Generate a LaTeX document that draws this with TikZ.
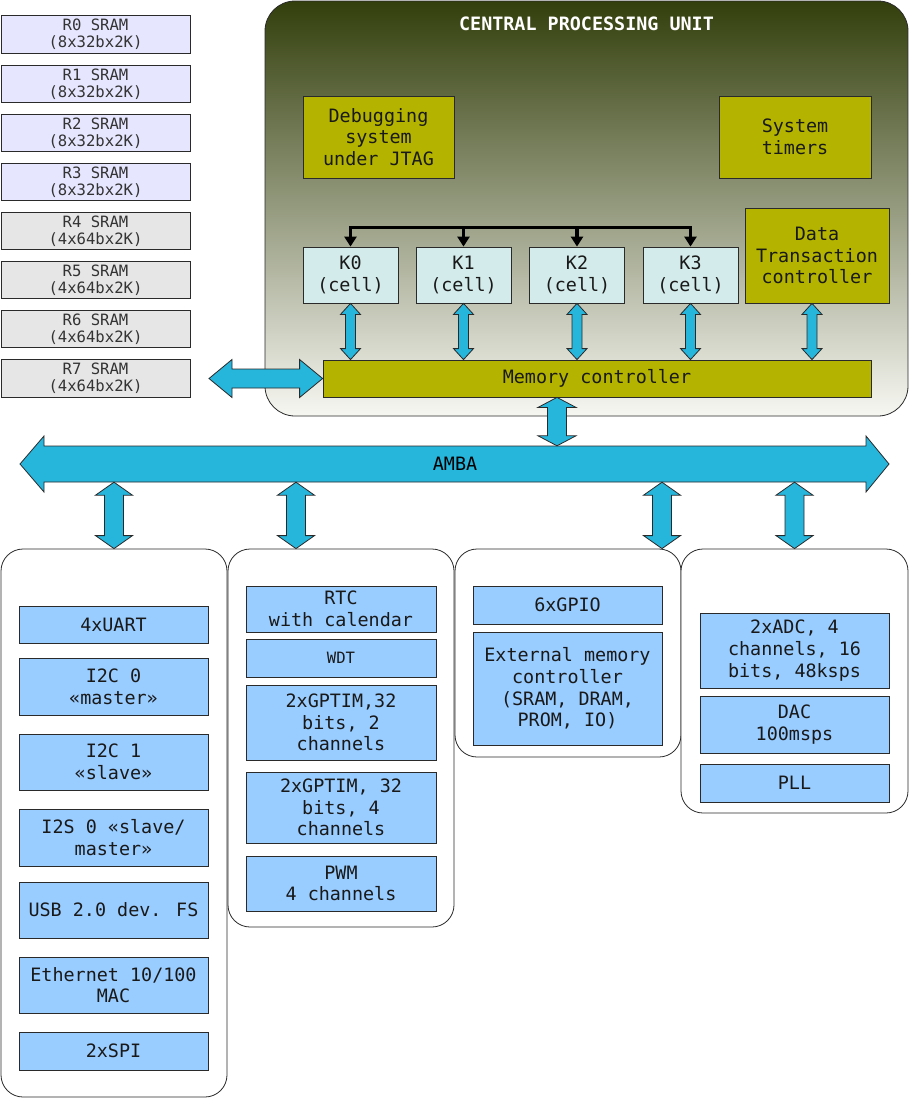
\documentclass[tikz,border=0pt]{standalone}
\usepackage{fontspec}
\newfontfamily\mono{DejaVu Sans Mono}
\usetikzlibrary{arrows.meta,calc}
\definecolor{chipolive}{HTML}{B3B300}
\definecolor{kcyan}{HTML}{D3EBEA}
\definecolor{sramlav}{HTML}{E6E6FF}
\definecolor{sramgray}{HTML}{E6E6E6}
\definecolor{perblue}{HTML}{99CCFF}
\definecolor{arrcyan}{HTML}{26B5DB}
\definecolor{edge}{HTML}{2A2A2A}
\definecolor{cputop}{HTML}{333F0C}
\definecolor{cpubot}{HTML}{F7F7F2}
\newcommand\bigtxt{\mono\fontsize{18.4}{21.7}\selectfont}
\newcommand\smalltxt{\mono\fontsize{15.6}{17}\selectfont}
% vertical double arrow: #1 top, #2 bottom, #3 half shaft, #4 half head, #5 head length
\newcommand\vdarr[5]{\draw[barrow] let \p1=(#1), \p2=(#2) in
  (\x1,\y1) -- (\x1+#4pt,\y1-#5pt) -- (\x1+#3pt,\y1-#5pt) -- (\x1+#3pt,\y2+#5pt) -- (\x1+#4pt,\y2+#5pt)
  -- (\x1,\y2) -- (\x1-#4pt,\y2+#5pt) -- (\x1-#3pt,\y2+#5pt) -- (\x1-#3pt,\y1-#5pt) -- (\x1-#4pt,\y1-#5pt) -- cycle;}
% horizontal double arrow: #1 left, #2 right
\newcommand\hdarr[5]{\draw[barrow] let \p1=(#1), \p2=(#2) in
  (\x1,\y1) -- (\x1+#5pt,\y1+#4pt) -- (\x1+#5pt,\y1+#3pt) -- (\x2-#5pt,\y1+#3pt) -- (\x2-#5pt,\y1+#4pt)
  -- (\x2,\y1) -- (\x2-#5pt,\y1-#4pt) -- (\x2-#5pt,\y1-#3pt) -- (\x1+#5pt,\y1-#3pt) -- (\x1+#5pt,\y1-#4pt) -- cycle;}
\begin{document}
\begin{tikzpicture}[x=1pt,y=-1pt,
  box/.style={draw=edge, line width=0.8pt, inner sep=0pt, align=center, font=\bigtxt, text=black!90},
  sram/.style={box, font=\smalltxt, text=black!80, minimum width=189pt, minimum height=37.5pt},
  olivebox/.style={box, fill=chipolive},
  kbox/.style={box, fill=kcyan, minimum width=95pt, minimum height=56pt},
  bluebox/.style={box, fill=perblue},
  panel/.style={draw=edge, line width=0.8pt, rounded corners=22pt, fill=white, inner sep=0pt},
  barrow/.style={fill=arrcyan, draw=edge, line width=0.8pt, line join=miter},
  busline/.style={line width=3.5pt, black, line join=miter}
]
\useasboundingbox (0,0) rectangle (909,1098);
\fill[white] (0,0) rectangle (909,1098);

% SRAM column
\node[sram, fill=sramlav]  (r0) at (95.5,34.5)  {R0 SRAM\\(8x32bx2K)};
\node[sram, fill=sramlav]  (r1) at (95.5,84)    {R1 SRAM\\(8x32bx2K)};
\node[sram, fill=sramlav]  (r2) at (95.5,133)   {R2 SRAM\\(8x32bx2K)};
\node[sram, fill=sramlav]  (r3) at (95.5,182)   {R3 SRAM\\(8x32bx2K)};
\node[sram, fill=sramgray] (r4) at (95.5,231)   {R4 SRAM\\(4x64bx2K)};
\node[sram, fill=sramgray] (r5) at (95.5,280)   {R5 SRAM\\(4x64bx2K)};
\node[sram, fill=sramgray] (r6) at (95.5,329)   {R6 SRAM\\(4x64bx2K)};
\node[sram, fill=sramgray] (r7) at (95.5,378.5) {R7 SRAM\\(4x64bx2K)};

% CPU
\node[draw=edge, line width=0.8pt, rounded corners=30pt, top color=cputop, bottom color=cpubot,
      minimum width=643pt, minimum height=415pt, inner sep=0pt] (cpu) at (586.5,208.5) {};
\node[font=\mono\bfseries\fontsize{18.4}{21.7}\selectfont, text=white, inner sep=0pt] (title) at (586.5,24) {CENTRAL PROCESSING UNIT};

\node[olivebox, minimum width=151pt, minimum height=82pt] (dbg) at (378.5,137) {Debugging\\system\\under JTAG};
\node[olivebox, minimum width=152pt, minimum height=82pt] (tim) at (795,137) {System\\timers};
\node[olivebox, minimum width=144pt, minimum height=95pt] (dtc) at (817,255.5) {Data\\Transaction\\controller};

\node[kbox] (k0) at (350.5,275) {K0\\(cell)};
\node[kbox] (k1) at (463.5,275) {K1\\(cell)};
\node[kbox] (k2) at (577,275)   {K2\\(cell)};
\node[kbox] (k3) at (690.5,275) {K3\\(cell)};

\node[olivebox, minimum width=548pt, minimum height=37pt] (mem) at (597,378.5) {Memory controller};

% black bus to cells
\coordinate (bus) at (350.5,227.5);
\draw[busline, -{Triangle[width=12pt,length=10pt]}] (k1.north |- bus) -- (k1.north);
\draw[busline, -{Triangle[width=12pt,length=10pt]}] (k2.north |- bus) -- (k2.north);
\draw[busline, {Triangle[width=12pt,length=10pt]}-{Triangle[width=12pt,length=10pt]}]
  (k0.north) -- (k0.north |- bus) -- (k3.north |- bus) -- (k3.north);

% cell <-> memory controller arrows
\vdarr{k0.south}{k0.south |- mem.north}{5}{10}{11}
\vdarr{k1.south}{k1.south |- mem.north}{5}{10}{11}
\vdarr{k2.south}{k2.south |- mem.north}{5}{10}{11}
\vdarr{k3.south}{k3.south |- mem.north}{5}{10}{11}
\coordinate (dtcb) at ([xshift=-5pt]dtc.south);
\vdarr{dtcb}{dtcb |- mem.north}{5}{10}{11}

% SRAM <-> memory controller
\coordinate (srl) at (209,378.5);
\hdarr{srl}{mem.west}{9.5}{19}{23}

% AMBA bus
\draw[barrow] (20,464) -- (44,436) -- (44,446) -- (866,446) -- (866,436) -- (889,464)
  -- (866,492) -- (866,482) -- (44,482) -- (44,492) -- cycle;
\node[font=\bigtxt, inner sep=0pt, minimum width=822pt, minimum height=36pt] (amba) at (455,464) {AMBA};

% memory controller <-> AMBA
\coordinate (mab) at ([xshift=-40pt]mem.south);
\vdarr{mab}{mab |- amba.north}{9.5}{19}{10}

% peripheral panels
\node[panel, minimum width=226pt, minimum height=548pt] (p1) at (114,823) {};
\node[panel, minimum width=226pt, minimum height=378pt] (p2) at (341,738) {};
\node[panel, minimum width=226pt, minimum height=208pt] (p3) at (568,653) {};
\node[panel, minimum width=227pt, minimum height=264pt] (p4) at (794.5,681) {};

\coordinate (p1t) at (p1.north);
\coordinate (p2t) at ([xshift=-45pt]p2.north);
\coordinate (p3t) at ([xshift=94pt]p3.north);
\coordinate (p4t) at (p4.north);
\vdarr{amba.south -| p1t}{p1t}{9.5}{18.5}{13}
\vdarr{amba.south -| p2t}{p2t}{9.5}{18.5}{13}
\vdarr{amba.south -| p3t}{p3t}{9.5}{18.5}{13}
\vdarr{amba.south -| p4t}{p4t}{9.5}{18.5}{13}

% panel 1
\node[bluebox, minimum width=189pt, minimum height=37pt] (uart) at (113.5,624.5) {4xUART};
\node[bluebox, minimum width=189pt, minimum height=57pt] (i2c0) at (113.5,686.5) {I2C 0\\«master»};
\node[bluebox, minimum width=189pt, minimum height=56pt] (i2c1) at (113.5,762) {I2C 1\\«slave»};
\node[bluebox, minimum width=189pt, minimum height=57pt] (i2s) at (113.5,837.5) {I2S 0 «slave/\\master»};
\node[bluebox, minimum width=189pt, minimum height=56pt] (usb) at (113.5,910) {USB 2.0 dev. FS};
\node[bluebox, minimum width=189pt, minimum height=56pt] (eth) at (113.5,985) {Ethernet 10/100\\MAC};
\node[bluebox, minimum width=189pt, minimum height=38pt] (spi) at (113.5,1051) {2xSPI};

% panel 2
\node[bluebox, minimum width=190pt, minimum height=46pt] (rtc) at (341,609) {RTC\\with calendar};
\node[bluebox, font=\smalltxt, minimum width=190pt, minimum height=38pt] (wdt) at (341,658) {WDT};
\node[bluebox, minimum width=190pt, minimum height=75pt] (gpt1) at (341,722.5) {2xGPTIM,32\\bits, 2\\channels};
\node[bluebox, minimum width=190pt, minimum height=71pt] (gpt2) at (341,807.5) {2xGPTIM, 32\\bits, 4\\channels};
\node[bluebox, minimum width=190pt, minimum height=55pt] (pwm) at (341,883.5) {PWM\\4 channels};

% panel 3
\node[bluebox, minimum width=189pt, minimum height=38pt] (gpio) at (567.5,605) {6xGPIO};
\node[bluebox, minimum width=189pt, minimum height=113pt] (emc) at (567.5,688.5) {External memory\\controller\\(SRAM, DRAM,\\PROM, IO)};

% panel 4
\node[bluebox, minimum width=189pt, minimum height=75pt] (adc) at (794.5,650.5) {2xADC, 4\\channels, 16\\bits, 48ksps};
\node[bluebox, minimum width=189pt, minimum height=57pt] (dac) at (794.5,724.5) {DAC\\100msps};
\node[bluebox, minimum width=189pt, minimum height=38pt] (pll) at (794.5,783) {PLL};
\end{tikzpicture}
\end{document}
